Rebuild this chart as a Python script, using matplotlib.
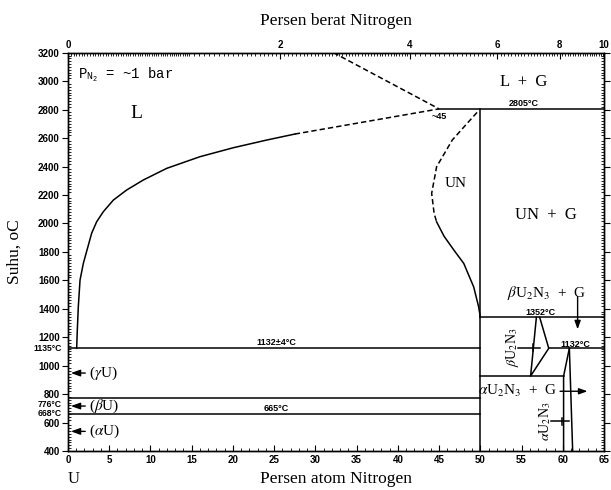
import numpy as np
import matplotlib
matplotlib.use("Agg")
import matplotlib.pyplot as plt
from matplotlib.transforms import blended_transform_factory

plt.rcParams["mathtext.fontset"] = "stix"

# liquidus of U(l) on the U-rich side (at.% N, degC)
liq_x = [1.05, 1.13, 1.25, 1.46, 1.86, 2.34, 2.87, 3.48, 4.28, 5.5, 7.12, 9.13,
         11.97, 16.01, 20.05, 24.1, 27.5]
liq_y = [1122, 1251, 1414, 1602, 1719, 1820, 1931, 2012, 2082, 2164, 2235, 2305,
         2387, 2469, 2532, 2586, 2628]
liq_dash_x = [27.5, 45.0]
liq_dash_y = [2628, 2805]
gas_dash_x = [32.2, 45.0]
gas_dash_y = [3200, 2805]

# UN left phase boundary
un_dash_x = [49.6, 48.2, 46.6, 44.7, 44.1, 44.4, 44.7]
un_dash_y = [2780, 2690, 2586, 2398, 2211, 2070, 2011]
un_solid_x = [44.7, 45.6, 46.8, 48.0, 49.2, 49.8, 50.0]
un_solid_y = [2011, 1910, 1812, 1718, 1553, 1413, 1340]

# horizontal invariants: (x0, x1, T)
invariants = [(0, 50, 1122), (0, 50, 776), (0, 50, 662),
              (45, 65, 2805), (50, 65, 1340), (58.3, 65, 1122), (50, 60.1, 927)]

# beta U2N3 and alpha U2N3 fields
beta_x = [56.8, 56.1, 58.3, 57.2]
beta_y = [1340, 927, 1122, 1340]
alpha_l_x = [60.1, 60.1, 60.8]
alpha_l_y = [400, 927, 1122]
alpha_r_x = [60.8, 61.2]
alpha_r_y = [1122, 400]

wt_ticks = [0, 2, 4, 6, 8, 10]


def wt_to_at(w):
    w = np.asarray(w, dtype=float)
    n = w / 14.007
    u = (100 - w) / 238.03
    return np.minimum(100 * n / (n + u), 65)


serif = "Liberation Serif"
sans = "Liberation Sans"

fig = plt.figure(figsize=(6.11, 4.9), dpi=100)
ax = fig.add_axes([68 / 611, 1 - 451 / 490, 536 / 611, 398.3 / 490])
ax.set_xlim(0, 65)
ax.set_ylim(400, 3200)

kw = dict(color="black", lw=1.1)
ax.plot(liq_x, liq_y, **kw)
ax.plot(liq_dash_x, liq_dash_y, ls=(0, (3.5, 2)), **kw)
ax.plot(gas_dash_x, gas_dash_y, ls=(0, (3.5, 2)), **kw)
ax.plot(un_dash_x, un_dash_y, ls=(0, (3.5, 2)), **kw)
ax.plot(un_solid_x, un_solid_y, **kw)
ax.plot([50, 50], [400, 2805], **kw)
for x0, x1, t in invariants:
    ax.plot([x0, x1], [t, t], **kw)
ax.plot(beta_x, beta_y, **kw)
ax.plot(alpha_l_x, alpha_l_y, **kw)
ax.plot(alpha_r_x, alpha_r_y, **kw)

# axes ticks
ax.set_xticks(np.arange(0, 66, 5))
ax.set_xticks(np.arange(0, 66, 1), minor=True)
ax.set_yticks(np.arange(400, 3201, 200))
ax.set_yticks(np.arange(400, 3201, 20), minor=True)
ax.tick_params(axis="x", which="both", direction="in", top=False)
ax.tick_params(axis="x", which="major", length=4)
ax.tick_params(axis="x", which="minor", length=2)
ax.tick_params(axis="y", which="both", right=True, direction="out")
ax.tick_params(axis="y", which="major", length=4)
ax.tick_params(axis="y", which="minor", length=2, direction="in")
for lab in ax.get_xticklabels() + ax.get_yticklabels():
    lab.set_fontfamily(sans)
    lab.set_fontweight("bold")
    lab.set_fontsize(7)
ax.tick_params(axis="x", pad=3)
ax.tick_params(axis="y", pad=2)

top = ax.twiny()
top.set_xlim(0, 65)
top.set_xticks(wt_to_at(wt_ticks))
top.set_xticklabels([str(w) for w in wt_ticks], fontfamily=sans,
                    fontweight="bold", fontsize=7)
minor_wt = np.concatenate([np.arange(0, 1, 0.02), np.arange(1, 4, 0.05),
                           np.arange(4, 10, 0.1)])
top.set_xticks(wt_to_at(minor_wt), minor=True)
top.tick_params(axis="x", which="both", direction="in", pad=2)
top.tick_params(axis="x", which="major", length=4)
top.tick_params(axis="x", which="minor", length=2)

for a in (ax, top):
    for s in a.spines.values():
        s.set_linewidth(1.0)

top.set_xlabel("Persen berat Nitrogen", fontfamily=serif, fontsize=12.5, labelpad=11)
ax.set_xlabel("Persen atom Nitrogen", fontfamily=serif, fontsize=12.5, labelpad=4)
ax.set_ylabel("Suhu, oC", fontfamily=serif, fontsize=12.5, labelpad=11)

# left side temperature markers
yt = blended_transform_factory(ax.transAxes, ax.transData)
for t, s in [(1122, "1135°C"), (728, "776°C"), (664, "668°C")]:
    ax.text(-0.012, t, s, transform=yt, ha="right", va="center",
            fontfamily=sans, fontweight="bold", fontsize=6.2)

# field labels
ax.text(1.2, 3043, r"P$_{\mathregular{N_2}}$ = ~1 bar", fontfamily="Liberation Mono",
        fontsize=10, ha="left", va="center")
ax.text(8.3, 2774, "L", fontfamily=serif, fontsize=14, ha="center", va="center")
ax.text(55.3, 2996, "L  +  G", fontfamily=serif, fontsize=12, ha="center", va="center")
ax.text(47.0, 2282, "UN", fontfamily=serif, fontsize=11, ha="center", va="center")
ax.text(57.9, 2059, "UN  +  G", fontfamily=serif, fontsize=12, ha="center", va="center")
ax.text(58.0, 1513, r"$\beta$U$_2$N$_3$  +  G", fontfamily=serif, fontsize=11,
        ha="center", va="center")
ax.text(59.4, 820, r"$\alpha$U$_2$N$_3$  +  G", fontfamily=serif, fontsize=11,
        ha="right", va="center")
ax.text(53.9, 1130, r"$\beta$U$_2$N$_3$", fontfamily=serif, fontsize=10,
        ha="center", va="center", rotation=90)
ax.text(57.9, 610, r"$\alpha$U$_2$N$_3$", fontfamily=serif, fontsize=10,
        ha="center", va="center", rotation=90)

small = dict(fontfamily=sans, fontweight="bold", fontsize=6.5, ha="center", va="center")
ax.text(55.3, 2840, "2805°C", **small)
ax.text(45.0, 2748, "~45", **small)
ax.text(25.3, 1162, "1132±4°C", **small)
ax.text(25.2, 700, "665°C", **small)
ax.text(57.3, 1372, "1352°C", **small)
ax.text(61.5, 1152, "1132°C", **small)

# pointers and arrows
arr = dict(arrowstyle="-|>,head_length=0.5,head_width=0.18", color="black", lw=1.0,
           shrinkA=1, shrinkB=0)
for t, s in [(948, r"($\gamma$U)"), (716, r"($\beta$U)"), (538, r"($\alpha$U)")]:
    ax.annotate(s, xy=(0.35, t), xytext=(2.6, t), ha="left", va="center",
                fontfamily=serif, fontsize=11, arrowprops=arr)
ax.annotate("", xy=(61.8, 1255), xytext=(61.8, 1495), arrowprops=arr)
ax.annotate("", xy=(63.0, 820), xytext=(59.5, 820), arrowprops=arr)
ax.plot([54.6, 57.2], [1127, 1127], **kw)
ax.plot([56.4, 56.4], [1100, 1154], **kw)
ax.plot([58.6, 60.8], [608, 608], **kw)
ax.plot([59.9, 59.9], [582, 634], **kw)

ax.text(0.7, -0.07, "U", transform=blended_transform_factory(ax.transData, ax.transAxes),
        fontfamily=serif, fontsize=12, ha="center", va="center")

fig.savefig("out.png", dpi=100)
